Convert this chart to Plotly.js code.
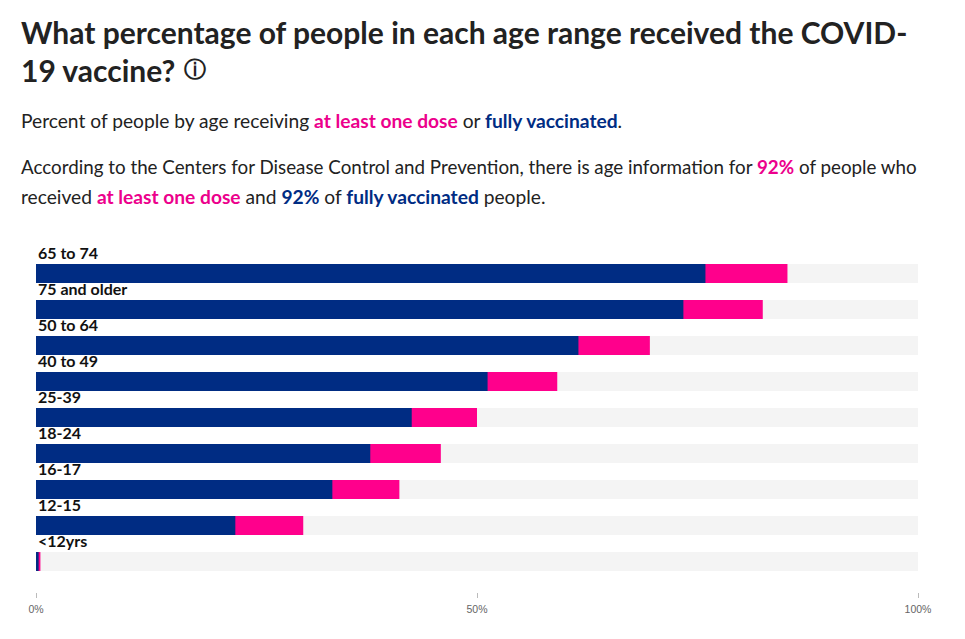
<!DOCTYPE html>
<html><head><meta charset="utf-8">
<script src="https://cdn.plot.ly/plotly-3.0.1.min.js"></script>
<style>html,body{margin:0;padding:0;background:#fff}#c{width:965px;height:639px}</style>
</head><body><div id="c"></div>
<script>
const categories=["65 to 74","75 and older","50 to 64","40 to 49","25-39","18-24","16-17","12-15","<12yrs"];
const fullyVaccinated=[75.9,73.4,61.5,51.2,42.6,37.9,33.6,22.6,0.3];
const atLeastOneDose=[85.2,82.4,69.6,59.1,50.0,45.9,41.2,30.3,0.5];
const totalTrack=[100,100,100,100,100,100,100,100,100];
const tickValues=[0,50,100];
const tickLabels=["0%","50%","100%"];
const PINK="#ff008c",BLUE="#002c83",INK="#222222";
const pinkT="#ec008c";
const W=965,H=639,L=36,R=47,T=256,B=47;
const px=x=>(x-L)/(W-L-R), py=y=>1-(y-T)/(H-T-B);
const FONT="Lato, 'Noto Sans', sans-serif";
const hot=s=>`<span style="color:${pinkT}"><b>${s}</b></span>`;
const blu=s=>`<span style="color:${BLUE}"><b>${s}</b></span>`;
function line(text,x,y,size,extra){
  return Object.assign({text,xref:'paper',yref:'paper',x:px(x),y:py(y),xanchor:'left',yanchor:'middle',
    showarrow:false,align:'left',font:{family:FONT,size,color:INK}},extra||{});
}
const textLines=[
  line("<b>What percentage of people in each age range received the COVID-</b>",19,31.5,30),
  line("<b>19 vaccine?</b>",19,69.5,30),
  line("<b>ⓘ</b>",182,69,22,{font:{family:"DejaVu Sans",size:22,color:INK}}),
  line(`Percent of people by age receiving ${hot("at least one dose")} or ${blu("fully vaccinated")}.`,19,120,19.2),
  line(`According to the Centers for Disease Control and Prevention, there is age information for ${hot("92%")} of people who`,19,166,18.8),
  line(`received ${hot("at least one dose")} and ${blu("92%")} of ${blu("fully vaccinated")} people.`,19,196,19.2)
];
const catLabels=categories.map(c=>({text:"<b>"+c.replace("<","&lt;")+"</b>",xref:'x',yref:'y',x:0,y:c,xanchor:'left',yanchor:'middle',
  xshift:0,yshift:21.5,showarrow:false,font:{family:FONT,size:16,color:"#111"}}));
const base={type:'bar',orientation:'h',y:categories,hoverinfo:'x+y'};
const traces=[
 Object.assign({},base,{name:"Total",x:totalTrack,marker:{color:"#f4f4f4"}}),
 Object.assign({},base,{name:"At least one dose",x:atLeastOneDose,marker:{color:PINK}}),
 Object.assign({},base,{name:"Fully vaccinated",x:fullyVaccinated,marker:{color:BLUE}})
];
const layout={width:W,height:H,margin:{l:L,r:R,t:T,b:B,pad:0},paper_bgcolor:"#fff",plot_bgcolor:"#fff",
 barmode:'overlay',bargap:0.475,showlegend:false,
 xaxis:{range:[0,100],tickvals:tickValues,ticktext:tickLabels,ticks:'outside',ticklen:5,tickcolor:"#bbbbbb",tickwidth:1,ticklabelstandoff:2,
   showgrid:false,zeroline:false,showline:false,tickfont:{family:"'Liberation Sans',Arial,sans-serif",size:10.5,color:"#666"}},
 yaxis:{type:'category',categoryorder:'array',categoryarray:categories,range:[8+30.5/36,-17.5/36],showticklabels:false,
   showgrid:false,zeroline:false,showline:false,ticks:''},
 annotations:textLines.concat(catLabels)};
Plotly.newPlot('c',traces,layout,{displayModeBar:false});
</script></body></html>
